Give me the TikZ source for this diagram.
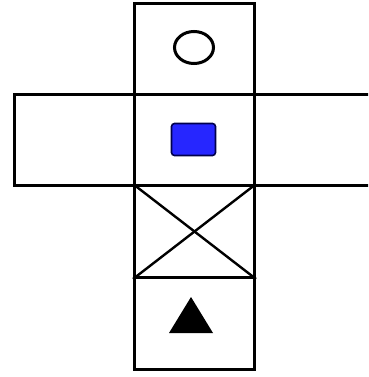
\documentclass[tikz,border=0pt]{standalone}
\usetikzlibrary{shapes.geometric}
\begin{document}
\begin{tikzpicture}[x=1pt,y=-1pt,
  face/.style={draw=black,line width=3pt,rectangle,inner sep=0pt,minimum width=120pt,minimum height=91pt,anchor=north west},
  sideface/.style={face,minimum height=91pt},
  shapeline/.style={draw=black,line width=3pt}]
\useasboundingbox (0,0) rectangle (368,377);
\clip (0,0) rectangle (368,377);
\node[sideface,minimum width=120pt] (left) at (13,93) {};
\node[sideface,minimum width=125pt] (right) at (253,93) {};
\node[face] (top) at (133,2) {};
\node[face] (mid) at (133,93) {};
\node[face,minimum height=92pt] (cross) at (133,184) {};
\node[face,minimum height=92pt] (bottom) at (133,276) {};
\draw[line width=2.4pt] (cross.north west) -- (cross.south east);
\draw[line width=2.4pt] (cross.north east) -- (cross.south west);
\node[shapeline,ellipse,minimum width=39pt,minimum height=32pt,inner sep=0pt] (circ) at (194,47.5) {};
\node[draw=black!70!blue,line width=1.6pt,fill=blue!85!white,rounded corners=3pt,minimum width=44pt,minimum height=32pt,inner sep=0pt] (sq) at (193.5,139.5) {};
\coordinate (tA) at (191,297);
\coordinate (tB) at (213,333);
\coordinate (tC) at (169,333);
\fill[black] (tA) -- (tB) -- (tC) -- cycle;
\end{tikzpicture}
\end{document}
